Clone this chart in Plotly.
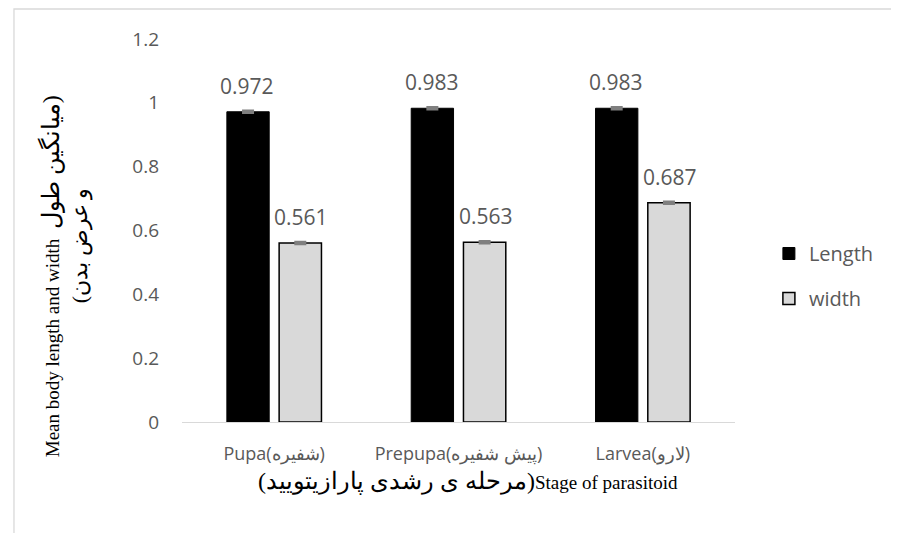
import plotly.graph_objects as go

categories = ["Pupa(شفیره)", "Prepupa(پیش شفیره)", "Larvea(لارو)"]
length_values = [0.972, 0.983, 0.983]
width_values = [0.561, 0.563, 0.687]
length_err = [0.003, 0.003, 0.003]
width_err = [0.003, 0.003, 0.003]
y_ticks = [0, 0.2, 0.4, 0.6, 0.8, 1, 1.2]
y_tick_labels = ["0", "0.2", "0.4", "0.6", "0.8", "1", "1.2"]

# page body has an 8px margin; work in window pixels and convert
OFF = 8
W, H = 899 - 2 * OFF, 541 - 2 * OFF
L, T = 182 - OFF, 39 - OFF
R = W - (753 - OFF)
B = H - (422 - OFF)
PW, PH = W - L - R, H - T - B


def px_x(p):
    return (p - OFF - L) / PW


def px_y(p):
    return (H - B - (p - OFF)) / PH


TEXT_GRAY = "#595959"
FONT = "Open Sans"
SERIF = "Liberation Serif, Times New Roman, DejaVu Serif, serif"


def fa(s, size):
    return f'<span style="font-size:{size}px">{s}</span>'


fig = go.Figure()
fig.add_trace(go.Bar(
    x=categories, y=length_values, name="Length",
    marker=dict(color="#000000", line=dict(color="#000000", width=1)),
    error_y=dict(type="data", array=length_err, visible=True,
                 color="#7f7f7f", thickness=2.5, width=6),
    legendgroup="a",
))
fig.add_trace(go.Bar(
    x=categories, y=width_values, name="width",
    marker=dict(color="#d9d9d9", line=dict(color="#000000", width=1.5)),
    error_y=dict(type="data", array=width_err, visible=True,
                 color="#7f7f7f", thickness=2.5, width=6),
    legendgroup="b",
))

annotations = []
for i, c in enumerate(categories):
    for vals, sh in ((length_values, -27), (width_values, 27)):
        annotations.append(dict(
            x=c, y=vals[i], xref="x", yref="y", text=f"{vals[i]:.3f}",
            showarrow=False, xshift=sh, yshift=26, yanchor="middle",
            font=dict(family=FONT, size=21, color=TEXT_GRAY),
        ))

annotations.append(dict(
    x=px_x(477), y=px_y(481), xref="paper", yref="paper",
    text=fa("(مرحله ی رشدی پارازیتویید)", 24) + "Stage of parasitoid",
    showarrow=False, xanchor="center", yanchor="middle",
    font=dict(family=SERIF, size=19, color="#000000"),
))
annotations.append(dict(
    x=px_x(47), y=px_y(276), xref="paper", yref="paper",
    text="Mean body length and width  " + fa("میانگین طول)", 24),
    showarrow=False, xanchor="center", yanchor="middle", textangle=-90,
    font=dict(family=SERIF, size=19, color="#000000"),
))
annotations.append(dict(
    x=px_x(77), y=px_y(246), xref="paper", yref="paper",
    text=fa("(و عرض بدن", 22),
    showarrow=False, xanchor="center", yanchor="middle", textangle=-90,
    font=dict(family=SERIF, size=19, color="#000000"),
))

fig.update_layout(
    width=W, height=H,
    margin=dict(l=L, r=R, t=T, b=B, pad=0),
    paper_bgcolor="white", plot_bgcolor="white",
    barmode="group", bargap=0.433, bargroupgap=0.19,
    showlegend=True,
    legend=dict(x=px_x(788), y=px_y(234), xanchor="left", yanchor="top",
                traceorder="grouped", tracegroupgap=16,
                font=dict(family=FONT, size=20, color=TEXT_GRAY),
                bgcolor="rgba(0,0,0,0)"),
    annotations=annotations,
    shapes=[dict(type="rect", xref="paper", yref="paper",
                 x0=px_x(8.5), x1=px_x(960), y0=px_y(600), y1=px_y(9),
                 line=dict(color="#d9d9d9", width=1.3), fillcolor="rgba(0,0,0,0)",
                 layer="below")],
    xaxis=dict(showline=True, linecolor="#d9d9d9", linewidth=1.3,
               showgrid=False, zeroline=False, ticks="",
               ticklabelstandoff=15,
               tickfont=dict(family=FONT, size=18, color=TEXT_GRAY)),
    yaxis=dict(range=[0, 1.2], tickvals=y_ticks, ticktext=y_tick_labels,
               showgrid=False, zeroline=False, showline=False, ticks="",
               ticklabelstandoff=22,
               tickfont=dict(family=FONT, size=19, color=TEXT_GRAY)),
)

fig.write_html("out.html")
